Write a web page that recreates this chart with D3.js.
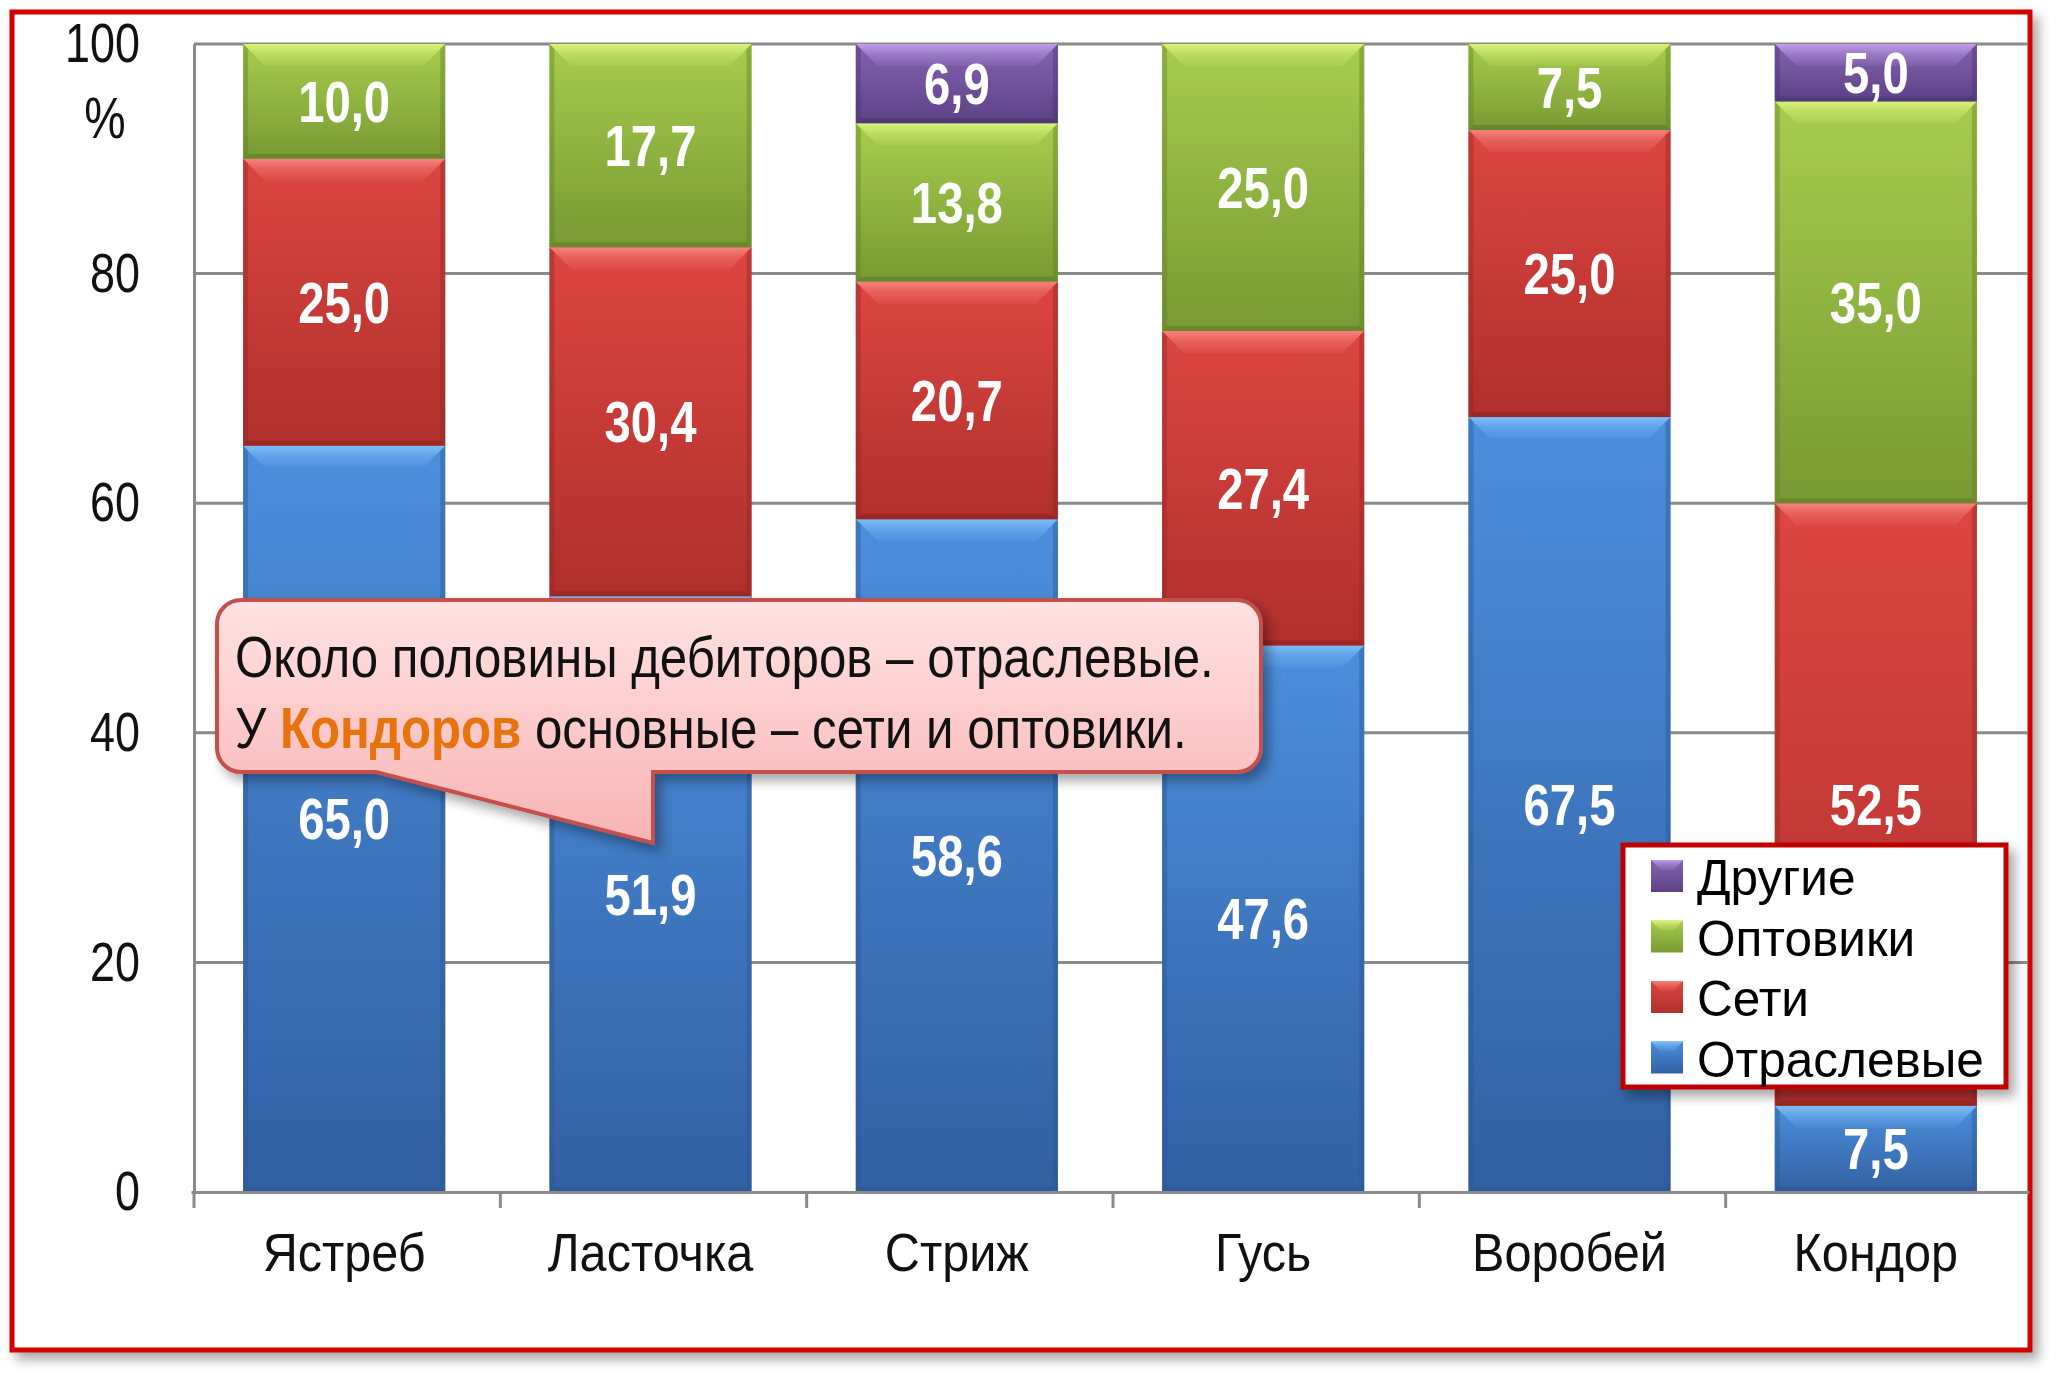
<!DOCTYPE html>
<html>
<head>
<meta charset="utf-8">
<script src="https://cdn.jsdelivr.net/npm/d3@7/dist/d3.min.js"></script>
<style>
  html, body { margin: 0; padding: 0; background: #fff; }
  svg text { font-family: "Liberation Sans", Arial, sans-serif; }
</style>
</head>
<body>
<div id="chart"></div>
<script>
// data
var categories = ["Ястреб", "Ласточка", "Стриж", "Гусь", "Воробей", "Кондор"];
var seriesNames = ["Отраслевые", "Сети", "Оптовики", "Другие"];
var otraslevye = [65.0, 51.9, 58.6, 47.6, 67.5, 7.5];
var seti = [25.0, 30.4, 20.7, 27.4, 25.0, 52.5];
var optoviki = [10.0, 17.7, 13.8, 25.0, 7.5, 35.0];
var drugie = [0, 0, 6.9, 0, 0, 5.0];
var yTicks = [0, 20, 40, 60, 80, 100];
var calloutLine1 = "Около половины дебиторов – отраслевые.";
var calloutLine2 = ["У ", "Кондоров", " основные – сети и оптовики."];

var W = 2067, H = 1388;
var svg = d3.select("#chart").append("svg").attr("width", W).attr("height", H);
var defs = svg.append("defs");

// palette: top / bottom / bevel highlight / edge
var pal = {
  "Отраслевые": { top: "#4b8fdc", bot: "#3260a3", hi: "#7dbdf7", edge: "#2b558f" },
  "Сети":       { top: "#dd4642", bot: "#b02f2c", hi: "#f6827d", edge: "#8f2522" },
  "Оптовики":   { top: "#a7cd4e", bot: "#789a33", hi: "#d9f27a", edge: "#5f7c26" },
  "Другие":     { top: "#8563b0", bot: "#5d4187", hi: "#c09ceb", edge: "#4a3370" }
};
seriesNames.forEach(function(s, i) {
  var g = defs.append("linearGradient").attr("id", "grad" + i).attr("x1", 0).attr("y1", 0).attr("x2", 0).attr("y2", 1);
  g.append("stop").attr("offset", "0%").attr("stop-color", pal[s].top);
  g.append("stop").attr("offset", "100%").attr("stop-color", pal[s].bot);
  var h = defs.append("linearGradient").attr("id", "hi" + i).attr("x1", 0).attr("y1", 0).attr("x2", 0).attr("y2", 1);
  h.append("stop").attr("offset", "0%").attr("stop-color", pal[s].hi).attr("stop-opacity", 1);
  h.append("stop").attr("offset", "45%").attr("stop-color", pal[s].hi).attr("stop-opacity", 0.45);
  h.append("stop").attr("offset", "100%").attr("stop-color", pal[s].hi).attr("stop-opacity", 0.1);
});
var cg = defs.append("linearGradient").attr("id", "callGrad").attr("x1", 0).attr("y1", 0).attr("x2", 0).attr("y2", 1);
cg.append("stop").attr("offset", "0%").attr("stop-color", "#ffe2e2");
cg.append("stop").attr("offset", "100%").attr("stop-color", "#f9b3b3");

var sh = defs.append("filter").attr("id", "shadow").attr("x", "-5%").attr("y", "-5%").attr("width", "115%").attr("height", "115%");
sh.append("feDropShadow").attr("dx", 6).attr("dy", 7).attr("stdDeviation", 6).attr("flood-color", "#000").attr("flood-opacity", 0.35);

// frame
svg.append("rect").attr("x", 12).attr("y", 12).attr("width", 2018).attr("height", 1338)
  .attr("fill", "#fff").attr("stroke", "#d40000").attr("stroke-width", 5).attr("filter", "url(#shadow)");

var x = d3.scaleBand().domain(categories).range([191, 2029]).paddingInner(0.34).paddingOuter(0.17);
var y = d3.scaleLinear().domain([0, 100]).range([1192, 44]);

// text width helper
function natural(str, size, weight) {
  var t = svg.append("text").attr("font-size", size).attr("font-weight", weight || "normal").text(str);
  var w = t.node().getComputedTextLength();
  t.remove();
  return w;
}
var kTick = 75 / natural("100", 55);
var kCat = 163 / natural("Ястреб", 54);
var kVal = 92 / natural("10,0", 57, "bold");
var kLeg = 287 / natural("Отраслевые", 50);
var kCall = 979 / natural(calloutLine1, 58);

// gridlines
svg.append("g").selectAll("line").data(yTicks.filter(function(d) { return d > 0; })).enter().append("line")
  .attr("x1", 194).attr("x2", 2028)
  .attr("y1", function(d) { return y(d); }).attr("y2", function(d) { return y(d); })
  .attr("stroke", "#8a8a8a").attr("stroke-width", 3);

// stacked bars
var table = categories.map(function(c, i) {
  return { cat: c, "Отраслевые": otraslevye[i], "Сети": seti[i], "Оптовики": optoviki[i], "Другие": drugie[i] };
});
var stacked = d3.stack().keys(seriesNames)(table);
var bw = x.bandwidth();

stacked.forEach(function(layer, si) {
  var s = seriesNames[si];
  var g = svg.append("g");
  var segs = g.selectAll("g").data(layer.filter(function(d) { return d[1] - d[0] > 0; })).enter().append("g");
  segs.append("rect")
    .attr("x", function(d) { return x(d.data.cat); })
    .attr("y", function(d) { return y(d[1]); })
    .attr("width", bw)
    .attr("height", function(d) { return y(d[0]) - y(d[1]); })
    .attr("fill", "url(#grad" + si + ")");
  // bevel top
  segs.append("path").attr("fill", "url(#hi" + si + ")").attr("d", function(d) {
    var x0 = x(d.data.cat), x1 = x0 + bw, y0 = y(d[1]), b = Math.min(22, (y(d[0]) - y(d[1])) / 2);
    return "M" + x0 + "," + y0 + "L" + x1 + "," + y0 + "L" + (x1 - b) + "," + (y0 + b) + "L" + (x0 + b) + "," + (y0 + b) + "Z";
  });
  // bevel sides & bottom
  segs.append("path").attr("fill", pal[s].edge).attr("opacity", 0.4).attr("d", function(d) {
    var x0 = x(d.data.cat), x1 = x0 + bw, y0 = y(d[1]), y1 = y(d[0]), b = 5;
    return "M" + x0 + "," + y0 + "L" + (x0 + b) + "," + (y0 + b) + "L" + (x0 + b) + "," + (y1 - b) + "L" + x0 + "," + y1 + "Z" +
           "M" + x1 + "," + y0 + "L" + (x1 - b) + "," + (y0 + b) + "L" + (x1 - b) + "," + (y1 - b) + "L" + x1 + "," + y1 + "Z";
  });
  segs.append("path").attr("fill", pal[s].edge).attr("opacity", 0.6).attr("d", function(d) {
    var x0 = x(d.data.cat), x1 = x0 + bw, y1 = y(d[0]), b = 5;
    return "M" + x0 + "," + y1 + "L" + x1 + "," + y1 + "L" + (x1 - b) + "," + (y1 - b) + "L" + (x0 + b) + "," + (y1 - b) + "Z";
  });
  segs.append("text")
    .attr("transform", function(d) {
      return "translate(" + (x(d.data.cat) + bw / 2) + "," + ((y(d[0]) + y(d[1])) / 2) + ") scale(" + kVal + ",1)";
    })
    .attr("text-anchor", "middle").attr("dy", "0.36em")
    .attr("font-size", 57).attr("font-weight", "bold").attr("fill", "#fff")
    .text(function(d) { return d3.format(".1f")(d[1] - d[0]).replace(".", ","); });
});

// axes
var yAxis = svg.append("g").attr("transform", "translate(194,0)")
  .call(d3.axisLeft(y).tickValues(yTicks).tickSize(0).tickPadding(54).tickFormat(d3.format("d")));
yAxis.select(".domain").attr("stroke", "#8a8a8a").attr("stroke-width", 3);
yAxis.selectAll("text").attr("font-size", 55).attr("fill", "#111")
  .attr("transform", function() { var tx = +d3.select(this).attr("x"); return "translate(" + (tx * (1 - kTick)) + ",0) scale(" + kTick + ",1)"; });
svg.append("text").attr("transform", "translate(105,138) scale(" + kTick + ",1)")
  .attr("text-anchor", "middle").attr("font-size", 57).attr("fill", "#111").text("%");

var xAxis = svg.append("g").attr("transform", "translate(0,1192)")
  .call(d3.axisBottom(x).tickSize(0).tickFormat(""));
xAxis.select(".domain").attr("stroke", "#8a8a8a").attr("stroke-width", 3);
var bounds = d3.range(categories.length).map(function(i) { return 194 + i * x.step(); });
svg.append("g").selectAll("line").data(bounds).enter().append("line")
  .attr("x1", function(d) { return d; }).attr("x2", function(d) { return d; })
  .attr("y1", 1192).attr("y2", 1208).attr("stroke", "#8a8a8a").attr("stroke-width", 3);
svg.append("g").selectAll("text").data(categories).enter().append("text")
  .attr("transform", function(d) { return "translate(" + (x(d) + bw / 2) + ",1271) scale(" + kCat + ",1)"; })
  .attr("text-anchor", "middle").attr("font-size", 54).attr("fill", "#111").text(function(d) { return d; });

// callout
var cx0 = 217, cx1 = 1261, cy0 = 600, cy1 = 772, r = 24, tipX = 653, tipY = 843, tailL = 376;
var p = d3.path();
p.moveTo(cx0 + r, cy0);
p.lineTo(cx1 - r, cy0); p.arcTo(cx1, cy0, cx1, cy0 + r, r);
p.lineTo(cx1, cy1 - r); p.arcTo(cx1, cy1, cx1 - r, cy1, r);
p.lineTo(tipX, cy1); p.lineTo(tipX, tipY); p.lineTo(tailL, cy1);
p.lineTo(cx0 + r, cy1); p.arcTo(cx0, cy1, cx0, cy1 - r, r);
p.lineTo(cx0, cy0 + r); p.arcTo(cx0, cy0, cx0 + r, cy0, r);
p.closePath();
svg.append("path").attr("d", p.toString()).attr("fill", "url(#callGrad)")
  .attr("stroke", "#c4504c").attr("stroke-width", 4).attr("filter", "url(#shadow)");
svg.append("text").attr("transform", "translate(235,677) scale(" + kCall + ",1)")
  .attr("font-size", 58).attr("fill", "#111").text(calloutLine1);
var l2 = svg.append("text").attr("transform", "translate(235,748) scale(" + kCall + ",1)")
  .attr("font-size", 58).attr("fill", "#111");
l2.append("tspan").text(calloutLine2[0]);
l2.append("tspan").attr("fill", "#e8720c").attr("font-weight", "bold").text(calloutLine2[1]);
l2.append("tspan").text(calloutLine2[2]);

// legend
var leg = svg.append("g");
leg.append("rect").attr("x", 1623).attr("y", 845).attr("width", 383).attr("height", 242)
  .attr("fill", "#fff").attr("stroke", "#c00000").attr("stroke-width", 5).attr("filter", "url(#shadow)");
var legOrder = seriesNames.slice().reverse();
var li = leg.selectAll("g.item").data(legOrder).enter().append("g").attr("class", "item")
  .attr("transform", function(d, i) { return "translate(1651," + (895 + i * 60.5) + ")"; });
li.append("rect").attr("x", 0).attr("y", -35).attr("width", 32).attr("height", 32)
  .attr("fill", function(d) { return "url(#grad" + seriesNames.indexOf(d) + ")"; });
li.append("path").attr("d", "M0,-35L32,-35L22,-25L10,-25Z")
  .attr("fill", function(d) { return "url(#hi" + seriesNames.indexOf(d) + ")"; });
li.append("text").attr("transform", "translate(46,0) scale(" + kLeg + ",1)")
  .attr("font-size", 50).attr("fill", "#000").text(function(d) { return d; });
</script>
</body>
</html>
